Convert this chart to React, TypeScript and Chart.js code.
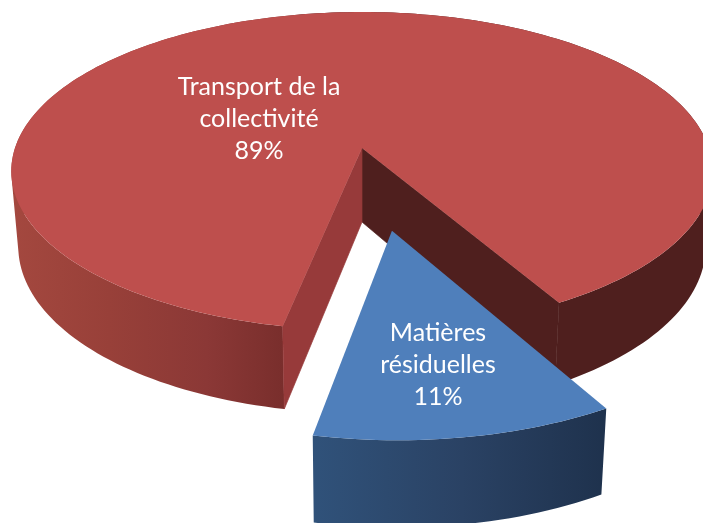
import React, { useEffect, useRef } from "react";
import { Chart, registerables } from "chart.js";

Chart.register(...registerables);

const categories = ["Transport de la collectivité", "Matières résiduelles"];
const values = [88.6, 11.4];
const labelLines = [
  ["Transport de la", "collectivité", "89%"],
  ["Matières", "résiduelles", "11%"],
];

// layout of the perspective drawing
const ORIGIN_X = 362, ORIGIN_Y = 148, SCALE_X = 347, SCALE_Y = 155.8, PERSPECTIVE = 0.1455;
const DEPTH_SHRINK = 0.98, DEPTH_BASE = 74, DEPTH_GROW = 9;
const EXPLODE = [0, 0.5];
const RIM_SIZE = [1, 0.98];
const LABEL_ANCHORS = [[259, 87], [438, 333]];
const LINE_HEIGHT = 32;

type P = { x: number; y: number };
const top = (u: number, v: number): P => {
  const w = 1 - PERSPECTIVE * v;
  return { x: ORIGIN_X + (SCALE_X * u) / w, y: ORIGIN_Y + (SCALE_Y * v) / w };
};
const bottom = (u: number, v: number): P => {
  const p = top(u, v);
  return { x: ORIGIN_X + (p.x - ORIGIN_X) * DEPTH_SHRINK, y: p.y + DEPTH_BASE + DEPTH_GROW * v };
};

const poly = (ctx: CanvasRenderingContext2D, pts: P[], fill: string | CanvasGradient, seal = 0.7) => {
  ctx.beginPath();
  pts.forEach((p, i) => (i ? ctx.lineTo(p.x, p.y) : ctx.moveTo(p.x, p.y)));
  ctx.closePath();
  ctx.fillStyle = fill;
  ctx.fill();
  if (seal > 0) {
    ctx.strokeStyle = fill;
    ctx.lineWidth = seal;
    ctx.lineJoin = "round";
    ctx.stroke();
  }
};

const hGradient = (ctx: CanvasRenderingContext2D, x0: number, x1: number, stops: [number, string][]) => {
  const g = ctx.createLinearGradient(x0, 0, x1, 0);
  stops.forEach(([o, c]) => g.addColorStop(o, c));
  return g;
};

const signedArea = (q: P[]) =>
  q.reduce((s, p, i) => {
    const n = q[(i + 1) % q.length];
    return s + p.x * n.y - n.x * p.y;
  }, 0);

// one single path of consistently wound quads, so that no seams appear between them
const sweep = (ctx: CanvasRenderingContext2D, rim: [number, number][], fill: CanvasGradient) => {
  ctx.beginPath();
  for (let i = 0; i < rim.length - 1; i++) {
    const [a, b] = rim[i];
    const [c, d] = rim[i + 1];
    let q = [top(a, b), top(c, d), bottom(c, d), bottom(a, b)];
    if (signedArea(q) < 0) q = q.reverse();
    q.forEach((p, j) => (j ? ctx.lineTo(p.x, p.y) : ctx.moveTo(p.x, p.y)));
    ctx.closePath();
  }
  ctx.fillStyle = fill;
  ctx.fill("nonzero");
};

const pie3d = {
  id: "pie3d",
  beforeDatasetDraw(chart: any) {
    const ctx: CanvasRenderingContext2D = chart.ctx;
    const arcs = chart.getDatasetMeta(0).data;
    const slices = arcs.map((arc: any, i: number) => {
      const { startAngle, endAngle } = arc;
      const mid = (startAngle + endAngle) / 2;
      const ou = EXPLODE[i] * Math.cos(mid);
      const ov = EXPLODE[i] * Math.sin(mid);
      const steps = Math.max(12, Math.ceil((endAngle - startAngle) * 40));
      const rim: [number, number][] = [];
      for (let s = 0; s <= steps; s++) {
        const a = startAngle + ((endAngle - startAngle) * s) / steps;
        rim.push([ou + RIM_SIZE[i] * Math.cos(a), ov + RIM_SIZE[i] * Math.sin(a)]);
      }
      return { ou, ov, rim };
    });

    ctx.save();
    // red slice
    {
      const { ou, ov, rim } = slices[0];
      const first = rim[0];
      const last = rim[rim.length - 1];
      const side = hGradient(ctx, 11, 711, [
        [0, "#a4483f"],
        [0.14, "#984039"],
        [0.28, "#8b3836"],
        [0.39, "#792e2c"],
        [0.41, "#792e2c"],
        [0.412, "#4f1f1e"],
        [1, "#4f1f1e"],
      ]);
      sweep(ctx, rim, side);
      poly(ctx, [top(ou, ov), top(last[0], last[1]), bottom(last[0], last[1]), bottom(ou, ov)], "#4f1f1e");
      poly(ctx, [top(ou, ov), top(first[0], first[1]), bottom(first[0], first[1]), bottom(ou, ov)], "#973a3a");
      poly(ctx, [top(ou, ov), ...rim.map(([u, v]) => top(u, v))], "#be4f4d", 0);
    }
    // blue slice
    {
      const { ou, ov, rim } = slices[1];
      const side = hGradient(ctx, 312, 612, [
        [0, "#30527a"],
        [0.5, "#2a4264"],
        [1, "#1e314c"],
      ]);
      sweep(ctx, rim, side);
      poly(ctx, [top(ou, ov), ...rim.map(([u, v]) => top(u, v))], "#4f7fbb", 0);
    }
    // labels
    ctx.fillStyle = "#ffffff";
    ctx.font = "25px Lato";
    ctx.textAlign = "center";
    ctx.textBaseline = "middle";
    labelLines.forEach((lines, i) => {
      lines.forEach((t, j) => ctx.fillText(t, LABEL_ANCHORS[i][0], LABEL_ANCHORS[i][1] + j * LINE_HEIGHT));
    });
    ctx.restore();
    return false;
  },
};

export default function App() {
  const ref = useRef<HTMLCanvasElement>(null);
  useEffect(() => {
    if (!ref.current) return;
    const chart = new Chart(ref.current, {
      type: "pie",
      data: {
        labels: categories,
        datasets: [{ data: values, backgroundColor: ["#be4f4d", "#4f7fbb"], borderWidth: 0 }],
      },
      options: {
        responsive: false,
        animation: false,
        rotation: 191.3,
        layout: { padding: 0 },
        plugins: { legend: { display: false }, title: { display: false }, tooltip: { enabled: false } },
      },
      plugins: [pie3d],
    } as any);
    return () => chart.destroy();
  }, []);
  return (
    <div style={{ position: "fixed", left: 0, top: 0, width: 703, height: 523, overflow: "hidden", background: "#fff" }}>
      <canvas ref={ref} width={703} height={523} style={{ display: "block" }} />
    </div>
  );
}
